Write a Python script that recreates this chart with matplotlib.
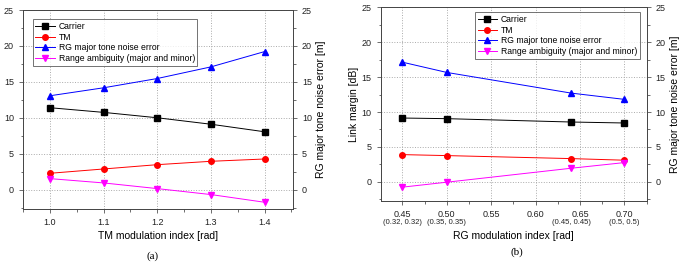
import matplotlib.pyplot as plt
from matplotlib.ticker import MultipleLocator

plt.rcParams['font.family'] = ['Liberation Sans', 'DejaVu Sans']

# (a) TM modulation index sweep
tm_index = [1.0, 1.1, 1.2, 1.3, 1.4]
a_carrier = [11.4, 10.75, 10.0, 9.1, 8.05]
a_tm = [2.27, 2.87, 3.47, 3.94, 4.26]
a_rg_err = [13.06, 14.17, 15.46, 17.08, 19.21]
a_range_amb = [1.53, 0.93, 0.14, -0.69, -1.76]

# (b) RG modulation index sweep
rg_index = [0.45, 0.50, 0.64, 0.70]
rg_sub = ['(0.32, 0.32)', '(0.35, 0.35)', '(0.45, 0.45)', '(0.5, 0.5)']
b_carrier = [9.14, 9.05, 8.57, 8.43]
b_tm = [3.9, 3.76, 3.33, 3.1]
b_rg_err = [17.14, 15.67, 12.71, 11.81]
b_range_amb = [-0.76, -0.05, 1.95, 2.76]

labels = ['Carrier', 'TM', 'RG major tone noise error',
          'Range ambiguity (major and minor)']
styles = [('black', 's'), ('red', 'o'), ('blue', '^'), ('magenta', 'v')]

fig = plt.figure(figsize=(6.79, 2.63), dpi=100)
W, H = 679.0, 263.0
ax1 = fig.add_axes([23 / W, 1 - 209 / H, 270 / W, 199 / H])
ax2 = fig.add_axes([380.7 / W, 1 - 200.7 / H, 266 / W, 193.4 / H])

tick_fs = 6.5
lab_fs = 7.5


def style_axes(ax, axr):
    for a in (ax, axr):
        a.set_ylim(-2.7, 25)
        a.yaxis.set_major_locator(MultipleLocator(5))
        a.yaxis.set_minor_locator(MultipleLocator(2.5))
        a.tick_params(which='both', direction='out', labelsize=tick_fs,
                      color='#555555', width=0.6, labelcolor='#222222')
        a.tick_params(which='major', length=3)
        a.tick_params(which='minor', length=1.8)
        for s in a.spines.values():
            s.set_linewidth(0.6)
            s.set_color('#444444')
    ax.grid(True, which='major', color='#aaaaaa', linestyle=':', linewidth=0.7)
    axr.set_ylabel('RG major tone noise error [m]', fontsize=lab_fs, labelpad=3)


def add_legend(ax, axr, loc, anchor):
    h1, l1 = ax.get_legend_handles_labels()
    h2, l2 = axr.get_legend_handles_labels()
    hh = [h1[0], h1[1], h2[0], h1[2]]
    ll = [l1[0], l1[1], l2[0], l1[2]]
    leg = axr.legend(hh, ll, loc=loc, bbox_to_anchor=anchor,
                     fontsize=6.2, frameon=True, fancybox=False, borderpad=0.3,
                     labelspacing=0.2, handlelength=2.3, handletextpad=0.4)
    leg.get_frame().set_edgecolor('#333333')
    leg.get_frame().set_linewidth(0.6)


# ---- panel (a)
ax1r = ax1.twinx()
series_a = [a_carrier, a_tm, a_rg_err, a_range_amb]
for i, (vals, (c, m)) in enumerate(zip(series_a, styles)):
    target = ax1r if i == 2 else ax1
    target.plot(tm_index, vals, color=c, marker=m, markersize=4, linewidth=0.7,
                label=labels[i])
ax1.set_xlim(0.95, 1.453)
ax1.set_xticks(tm_index)
ax1.set_xticklabels(['%.1f' % v for v in tm_index])
ax1.xaxis.set_minor_locator(MultipleLocator(0.05))
ax1.set_xlabel('TM modulation index [rad]', fontsize=lab_fs, labelpad=3)
ax1.set_ylabel('Link margin [dB]', fontsize=lab_fs, labelpad=2)
style_axes(ax1, ax1r)
add_legend(ax1, ax1r, 'upper left', (0.02, 0.975))

# ---- panel (b)
ax2r = ax2.twinx()
series_b = [b_carrier, b_tm, b_rg_err, b_range_amb]
for i, (vals, (c, m)) in enumerate(zip(series_b, styles)):
    target = ax2r if i == 2 else ax2
    target.plot(rg_index, vals, color=c, marker=m, markersize=4, linewidth=0.7,
                label=labels[i])
ax2.set_xlim(0.4256, 0.725)
ax2.set_xticks([0.45, 0.50, 0.55, 0.60, 0.65, 0.70])
ax2.set_xticklabels(['0.45', '0.50', '0.55', '0.60', '0.65', '0.70'])
ax2.xaxis.set_minor_locator(MultipleLocator(0.025))
ax2.set_xlabel('RG modulation index [rad]', fontsize=lab_fs, labelpad=9)
ax2.set_ylabel('Link margin [dB]', fontsize=lab_fs, labelpad=2)
style_axes(ax2, ax2r)
for x, s in zip(rg_index, rg_sub):
    ax2.annotate(s, xy=(x, 0), xycoords=('data', 'axes fraction'),
                 xytext=(0, -13), textcoords='offset points',
                 ha='center', va='top', fontsize=5.5, color='#222222')
add_legend(ax2, ax2r, 'upper right', (0.99, 0.996))

fig.text(153 / W, 1 - 256 / H, '(a)', ha='center', va='center',
         fontsize=8, family='Liberation Serif')
fig.text(517 / W, 1 - 252 / H, '(b)', ha='center', va='center',
         fontsize=8, family='Liberation Serif')

fig.savefig('out.png', dpi=100)
